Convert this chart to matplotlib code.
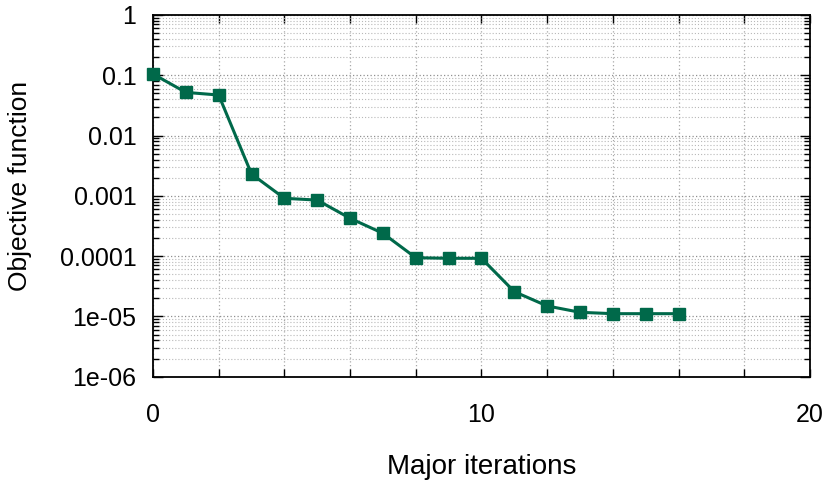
import matplotlib
matplotlib.use("Agg")
import matplotlib.pyplot as plt
from matplotlib.ticker import FixedLocator, LogLocator, NullFormatter, FixedFormatter

plt.rcParams['font.family'] = ['Liberation Sans', 'DejaVu Sans']

iterations = [0, 1, 2, 3, 4, 5, 6, 7, 8, 9, 10, 11, 12, 13, 14, 15, 16]
objective = [0.105, 0.052, 0.047, 2.30e-3, 9.1e-4, 8.5e-4, 4.24e-4, 2.39e-4,
             9.4e-5, 9.2e-5, 9.2e-5, 2.57e-5, 1.49e-5, 1.17e-5, 1.11e-5, 1.11e-5, 1.11e-5]

x_labels = ['0', '10', '20']
y_labels = ['1e-06', '1e-05', '0.0001', '0.001', '0.01', '0.1', '1']

fig = plt.figure(figsize=(8.31, 4.91), dpi=100)
ax = fig.add_axes([0.1841, 0.2328, 0.7906, 0.7367])

ax.set_yscale('log')
ax.set_xlim(0, 20)
ax.set_ylim(1e-6, 1)

green = '#00694a'
ax.plot(iterations, objective, color=green, linewidth=2.2, marker='s',
        markersize=8.5, markerfacecolor=green, markeredgecolor=green, zorder=5,
        clip_on=False)

# x ticks: labelled every 10, tick marks every 2
ax.xaxis.set_major_locator(FixedLocator([0, 10, 20]))
ax.xaxis.set_major_formatter(FixedFormatter(x_labels))
ax.xaxis.set_minor_locator(FixedLocator([2, 4, 6, 8, 12, 14, 16, 18]))

# y ticks: decades with all intermediate minor ticks
decades = [1e-6, 1e-5, 1e-4, 1e-3, 1e-2, 1e-1, 1]
ax.yaxis.set_major_locator(FixedLocator(decades))
ax.yaxis.set_major_formatter(FixedFormatter(y_labels))
ax.yaxis.set_minor_locator(LogLocator(base=10, subs=range(2, 10), numticks=20))
ax.yaxis.set_minor_formatter(NullFormatter())

ax.tick_params(axis='both', which='both', direction='in', top=True, right=True,
               colors='black', width=1.0, labelsize=18)
ax.tick_params(axis='x', which='both', length=6, pad=19)
ax.tick_params(axis='y', which='major', length=7, pad=12)
ax.tick_params(axis='y', which='minor', length=4)

# dotted grid on every tick
ax.grid(True, which='major', axis='y', color='#909090', linestyle=(0, (1, 1.8)), linewidth=0.9)
ax.grid(True, which='minor', axis='y', color='#b8b8b8', linestyle=(0, (1, 1.8)), linewidth=0.8)
ax.grid(True, which='both', axis='x', color='#a8a8a8', linestyle=(0, (1, 2)), linewidth=0.9)
ax.set_axisbelow(True)

for s in ax.spines.values():
    s.set_linewidth(1.3)
    s.set_color('black')

ax.set_xlabel('Major iterations', fontsize=20, va='center')
ax.set_ylabel('Objective function', fontsize=19, va='center')
ax.xaxis.set_label_coords(0.4996, -0.2497)
ax.yaxis.set_label_coords(-0.2024, 0.527)

fig.savefig('out.png', dpi=100)
